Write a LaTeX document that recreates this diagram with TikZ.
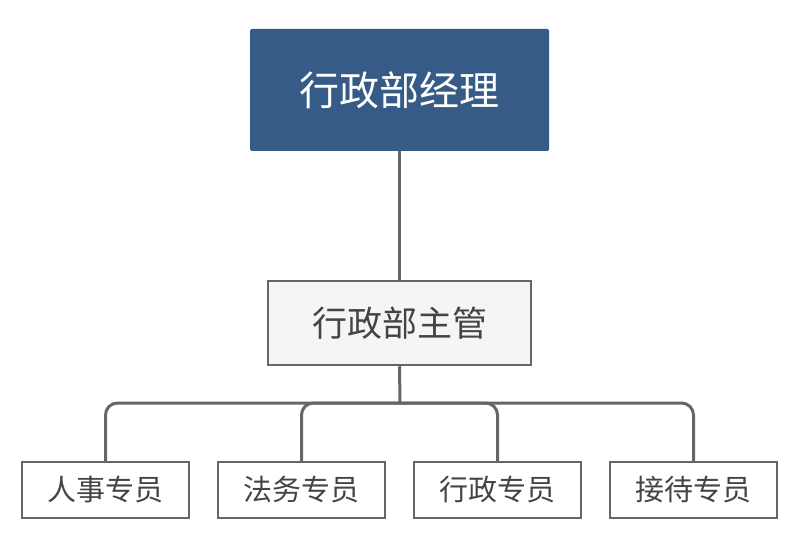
\documentclass[tikz,border=0pt]{standalone}
\usepackage{fontspec}
\setmainfont{Noto Sans CJK SC}
\definecolor{headblue}{HTML}{365B87}
\definecolor{linegray}{HTML}{666666}
\definecolor{boxgray}{HTML}{F5F5F5}
\definecolor{textgray}{HTML}{444444}
\begin{document}
\begin{tikzpicture}[x=1pt,y=-1pt,
  headbox/.style={fill=headblue,rounded corners=1.5pt,minimum width=299pt,minimum height=122pt,text=white,font=\fontsize{40}{48}\selectfont,inner sep=0pt},
  midbox/.style={draw=linegray,line width=2.5pt,fill=boxgray,minimum width=263pt,minimum height=84pt,text=textgray,font=\fontsize{35}{42}\selectfont,inner sep=0pt},
  leafbox/.style={draw=linegray,line width=2.5pt,fill=white,minimum width=167pt,minimum height=56pt,text=textgray,font=\fontsize{29}{34}\selectfont,inner sep=0pt},
  link/.style={draw=linegray,line width=3pt}]
\useasboundingbox (0,0) rectangle (800,548);
\node[headbox] (head) at (399.5,90) {行政部经理};
\node[midbox] (mid) at (399.5,323) {行政部主管};
\node[leafbox] (hr) at (105.5,490) {人事专员};
\node[leafbox] (legal) at (301.5,490) {法务专员};
\node[leafbox] (admin) at (497.5,490) {行政专员};
\node[leafbox] (recep) at (693.5,490) {接待专员};
\coordinate (bus) at (400,403);
\draw[link] (head.south) -- (mid.north);
\draw[link] (mid.south) -- (bus);
\foreach \leaf in {hr,legal,admin,recep}
  \draw[link,rounded corners=12pt] (bus) -| (\leaf.north);
\end{tikzpicture}
\end{document}
